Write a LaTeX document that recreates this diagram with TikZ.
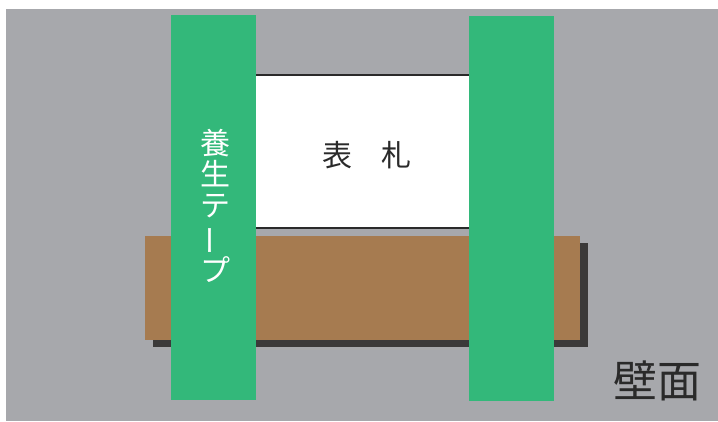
\documentclass[tikz,border=0pt]{standalone}
\usepackage{fontspec}
\usepackage{graphicx}
\newfontfamily\jpfont{Noto Sans CJK JP}

\definecolor{wallgray}{HTML}{A7A8AC}
\definecolor{tapegreen}{HTML}{33B87A}
\definecolor{boardbrown}{HTML}{A67B50}
\definecolor{shadowgray}{HTML}{3B3939}
\definecolor{plateline}{HTML}{2A2A2A}

\begin{document}
\begin{tikzpicture}[x=1pt,y=-1pt]

% Just a workaround to fix the space around the drawing
\filldraw[color=white,fill=white] (0,0) rectangle (718,421);

% Wall
\fill[wallgray] (6,9) rectangle (718,421);

% Nameplate
\filldraw[fill=white, draw=plateline, line width=2.5pt] (240,75) rectangle (485,228);

% Board with its shadow
\fill[shadowgray] (153,243) rectangle (588,347);
\fill[boardbrown] (145,236) rectangle (580,340);

% Tapes
\newcommand{\tapestrip}[3]{
	\fill[tapegreen]
		(#1,#2) rectangle (#1+85,#3)
	;
}
\tapestrip {171} {15} {400}
\tapestrip {469} {16} {401}

% Labels
\node[font=\jpfont\fontsize{30}{30}\selectfont, text=plateline, inner sep=0]
	(plate) at (367,155) {表　札};
\node[font=\jpfont\fontsize{30}{31}\selectfont, text=white, align=center, inner sep=0]
	(tape) at (215,206) {養\\生\\テ\\\rotatebox[origin=c]{90}{ー}\\プ};
\node[font=\jpfont\fontsize{44}{44}\selectfont, text=plateline, inner sep=0]
	(wall) at (658,381) {壁面};
\end{tikzpicture}
\end{document}
